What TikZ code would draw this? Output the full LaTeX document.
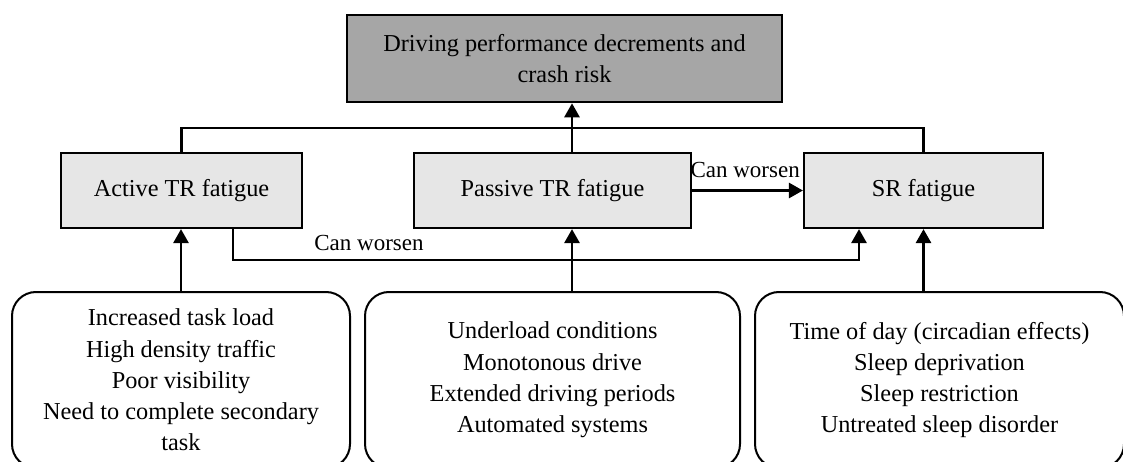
\documentclass[tikz,border=0pt]{standalone}
\usepackage{fontspec}
\setmainfont{Liberation Serif}
\usetikzlibrary{arrows.meta}
\definecolor{outgray}{HTML}{A6A6A6}
\definecolor{midgray}{HTML}{E6E6E6}
\begin{document}
\begin{tikzpicture}[x=1pt,y=-1pt,
  every node/.style={font=\fontsize{24.3}{31.3}\selectfont, align=center, inner sep=0pt},
  outcome/.style={draw, line width=2.6pt, fill=outgray, minimum width=435pt, minimum height=87pt},
  fatiguebox/.style={draw, line width=2.2pt, fill=midgray, minimum height=75pt},
  factorbox/.style={draw, line width=2pt, rounded corners=24pt, minimum height=176pt},
  conn/.style={line width=2.8pt},
  arr/.style={conn, -{Triangle[width=15pt,length=14pt]}},
  lbl/.style={font=\fontsize{23}{28}\selectfont}]
\useasboundingbox (0,0) rectangle (1123,462);

% outcome
\node[outcome] (top) at (564.5,58.5) {Driving performance decrements and\\crash risk};

% fatigue types
\node[fatiguebox, minimum width=241pt] (act) at (181.5,190.5) {Active TR fatigue};
\node[fatiguebox, minimum width=277pt] (pas) at (552.5,190.5) {Passive TR fatigue};
\node[fatiguebox, minimum width=239pt] (sr)  at (923.5,190.5) {SR fatigue};

% contributing factors
\node[factorbox, minimum width=338pt] (b1) at (181,380)
  {Increased task load\\High density traffic\\Poor visibility\\Need to complete secondary\\task};
\node[factorbox, minimum width=375pt] (b2) at (552.5,380)
  {Underload conditions\\Monotonous drive\\Extended driving periods\\Automated systems};
\node[factorbox, minimum width=369pt] (b3) at (939.5,380)
  {Time of day (circadian effects)\\Sleep deprivation\\Sleep restriction\\Untreated sleep disorder};

% routing points
\coordinate (xp) at (572,0);
\coordinate (bar) at (0,128);
\coordinate (aw) at (233,260);
\coordinate (sw) at (859,260);

% factors feed each fatigue type
\draw[arr] (b1.north) -- (b1.north |- act.south);
\draw[arr] (b2.north -| xp) -- (xp |- pas.south);
\draw[arr] (b3.north -| sr.south) -- (sr.south);

% fatigue types lead to the outcome
\draw[conn] (act.north) -- (act.north |- bar) -- (sr.north |- bar) -- (sr.north);
\draw[arr] (xp |- pas.north) -- (xp |- top.south);

% worsening links
\draw[arr] (pas.east) -- (sr.west);
\node[lbl, anchor=east] (cw1) at (800,170) {Can worsen};
\draw[arr] (act.south -| aw) -- (aw) -- (sw) -- (sw |- sr.south);
\node[lbl] (cw2) at (369,243) {Can worsen};
\end{tikzpicture}
\end{document}
